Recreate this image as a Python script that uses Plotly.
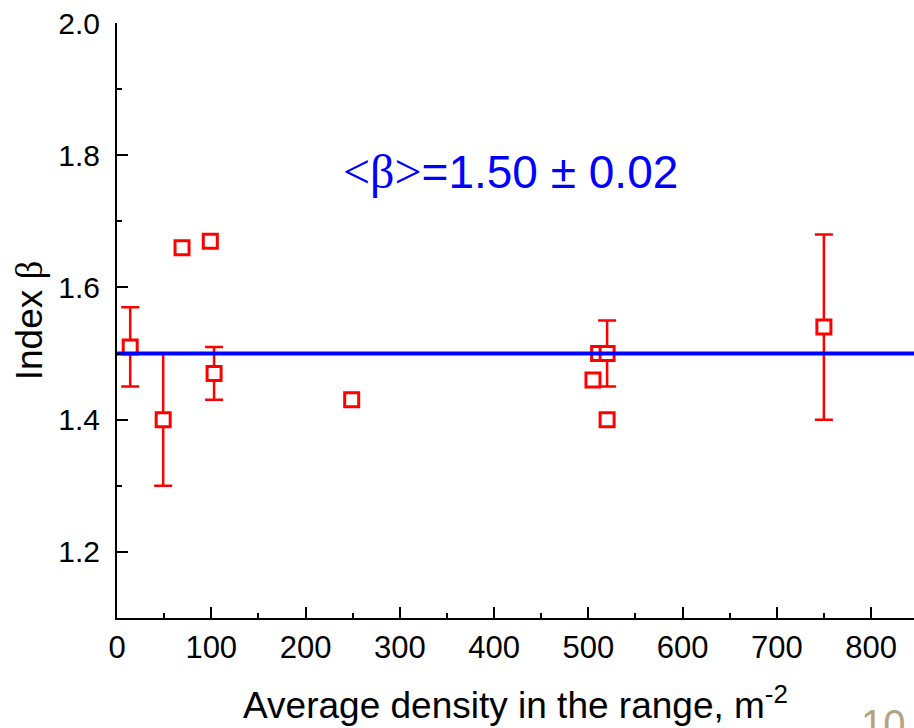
import plotly.graph_objects as go

# Data
x_err = [14, 49, 103, 520, 750]
y_err = [1.51, 1.40, 1.47, 1.50, 1.54]
e_err = [0.06, 0.10, 0.04, 0.05, 0.14]

x_pts = [69, 99, 249, 505, 511, 520]
y_pts = [1.66, 1.67, 1.43, 1.46, 1.50, 1.40]

beta_mean = 1.50
x_range = [0, 845.6]
y_range = [1.1, 2.0]

RED = "#FF0000"
BLUE = "#0000FF"
SANS = "Liberation Sans, Arial, sans-serif"
SERIF = "Liberation Serif, Times New Roman, serif"

fig = go.Figure()

marker = dict(symbol="square", size=14, color="white",
              line=dict(color=RED, width=3))

fig.add_trace(go.Scatter(
    x=x_pts, y=y_pts, mode="markers", marker=marker,
    showlegend=False, cliponaxis=False))

fig.add_trace(go.Scatter(
    x=x_err, y=y_err, mode="markers", marker=marker,
    error_y=dict(type="data", array=e_err, visible=True,
                 color=RED, thickness=2.5, width=9),
    showlegend=False, cliponaxis=False))

fig.add_trace(go.Scatter(
    x=x_range, y=[beta_mean, beta_mean], mode="lines",
    line=dict(color=BLUE, width=4), showlegend=False))

fig.add_annotation(
    x=418, y=1.776, xref="x", yref="y",
    text=(f"<span style=\"font-family:'Liberation Serif';font-size:48px\">&lt;β&gt;</span>"
          f"={beta_mean:.2f} ± 0.02"),
    showarrow=False, font=dict(family=SANS, size=46, color=BLUE),
    xanchor="center", yanchor="middle")

fig.add_annotation(
    x=0.931, y=-0.138, xref="paper", yref="paper", text="10",
    showarrow=False, font=dict(family=SANS, size=40, color="#B4A482"),
    xanchor="left", yanchor="top")

fig.update_layout(
    width=914, height=728,
    margin=dict(l=117, r=0, t=23, b=110),
    paper_bgcolor="white", plot_bgcolor="white",
    font=dict(family=SANS, color="black"),
    xaxis=dict(
        range=x_range, showgrid=False, zeroline=False,
        showline=True, linecolor="black", linewidth=2,
        ticks="inside", ticklen=11, tickwidth=2, tickcolor="black",
        tick0=0, dtick=100,
        minor=dict(ticks="inside", ticklen=5, tickwidth=2,
                   tickcolor="black", dtick=50),
        tickfont=dict(family=SANS, size=31),
        ticklabelstandoff=1,
        title=dict(text="Average density in the range, m<sup>-2</sup>",
                   font=dict(family=SANS, size=37), standoff=28),
    ),
    yaxis=dict(
        range=y_range, showgrid=False, zeroline=False,
        showline=True, linecolor="black", linewidth=2,
        ticks="inside", ticklen=11, tickwidth=2, tickcolor="black",
        tick0=1.2, dtick=0.2, tickformat=".1f",
        minor=dict(ticks="inside", ticklen=5, tickwidth=2,
                   tickcolor="black", dtick=0.1),
        tickfont=dict(family=SANS, size=30),
        ticklabelstandoff=9,
        title=dict(text="Index <span style=\"font-family:'Liberation Serif'\">β</span>",
                   font=dict(family=SANS, size=37), standoff=4),
    ),
)

fig.write_html("out.html")
